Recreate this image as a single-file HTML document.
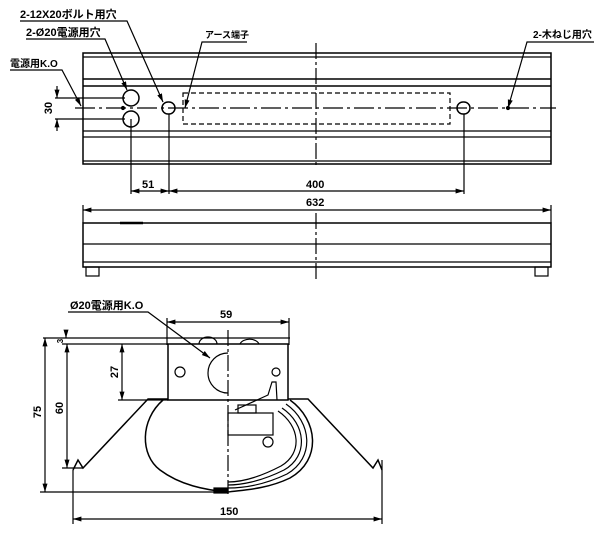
<!DOCTYPE html>
<html><head><meta charset="utf-8"><style>
html,body{margin:0;padding:0;background:#fff;}
svg{display:block;}
text{font-family:"Liberation Sans","Noto Sans CJK JP",sans-serif;font-weight:bold;fill:#000;}
</style></head><body>
<svg width="600" height="536" viewBox="0 0 600 536" xmlns="http://www.w3.org/2000/svg">
<defs>
<marker id="a" viewBox="0 0 10 10" refX="10" refY="5" markerWidth="7" markerHeight="7" orient="auto-start-reverse"><path d="M0,2 L10,5 L0,8 z" fill="#000"/></marker>
</defs>
<g stroke="#000" fill="none" stroke-width="1.2">
<!-- top view -->
<rect x="83" y="53" width="468" height="111" stroke-width="1.5"/>
<line x1="83" y1="57" x2="551" y2="57"/>
<line x1="83" y1="79" x2="551" y2="79" stroke-width="1.5"/>
<line x1="83" y1="86" x2="551" y2="86" stroke-width="1.5"/>
<line x1="83" y1="131" x2="551" y2="131"/>
<line x1="83" y1="137" x2="551" y2="137"/>
<line x1="83" y1="161" x2="551" y2="161"/>
<line x1="316" y1="43" x2="316" y2="168" stroke-dasharray="16,3,3,3"/>
<line x1="75" y1="108" x2="556" y2="108" stroke-dasharray="20,4,3,4"/>
<circle cx="131" cy="98" r="8" stroke-width="1.5"/>
<circle cx="131" cy="119" r="8" stroke-width="1.5"/>
<rect x="162" y="102" width="13" height="12" rx="6" stroke-width="1.5"/>
<rect x="457" y="102" width="13" height="12" rx="6" stroke-width="1.5"/>
<rect x="183" y="93" width="267" height="31" stroke-dasharray="5,3"/>
<circle cx="123" cy="108" r="1.5" fill="#000"/>
<circle cx="508" cy="108" r="1.5" fill="#000"/>
<!-- extension lines -->
<line x1="131" y1="119" x2="131" y2="194"/>
<line x1="169" y1="114" x2="169" y2="194"/>
<line x1="464" y1="114" x2="464" y2="194"/>
<line x1="131" y1="191" x2="169" y2="191" marker-start="url(#a)" marker-end="url(#a)"/>
<line x1="169" y1="191" x2="464" y2="191" marker-start="url(#a)" marker-end="url(#a)"/>
<!-- 30 dim -->
<line x1="55" y1="98" x2="125" y2="98"/>
<line x1="55" y1="119" x2="125" y2="119"/>
<line x1="57" y1="86" x2="57" y2="98" marker-end="url(#a)"/>
<line x1="57" y1="131" x2="57" y2="119" marker-end="url(#a)"/>
<!-- leaders -->
<polyline points="20,21 127,21 163,102" marker-end="url(#a)"/>
<polyline points="26,39 105,39 127,90" marker-end="url(#a)"/>
<polyline points="247,42 202,42 185,108" marker-end="url(#a)"/>
<polyline points="594,42 527,42 508,108" marker-end="url(#a)"/>
<polyline points="10,70 62,70 81,106" marker-end="url(#a)"/>
<!-- 632 -->
<line x1="83" y1="210" x2="551" y2="210" marker-start="url(#a)" marker-end="url(#a)"/>
<line x1="83" y1="205" x2="83" y2="223"/>
<line x1="551" y1="205" x2="551" y2="223"/>
<!-- bottom view -->
<rect x="83" y="223" width="468" height="44" stroke-width="1.5"/>
<line x1="83" y1="244" x2="551" y2="244"/>
<line x1="83" y1="262" x2="551" y2="262"/>
<line x1="120" y1="223" x2="143" y2="223" stroke-width="2.5"/>
<rect x="86" y="267" width="13" height="9"/>
<rect x="535" y="267" width="13" height="9"/>
<line x1="316" y1="213" x2="316" y2="280" stroke-dasharray="16,3,3,3"/>
<!-- section view -->
<polyline points="68,312 148,312 210,358" marker-end="url(#a)"/>
<line x1="167" y1="322" x2="289" y2="322" marker-start="url(#a)" marker-end="url(#a)"/>
<line x1="167" y1="318" x2="167" y2="345"/>
<line x1="289" y1="318" x2="289" y2="345"/>
<line x1="43" y1="338" x2="290" y2="338"/>
<line x1="62" y1="344" x2="168" y2="344"/>
<path d="M199,344 A9,7 0 0 1 217,344 M240,344 A10,7 0 0 1 259,344"/>
<rect x="168" y="344" width="120" height="56" stroke-width="1.5"/>
<circle cx="180" cy="372" r="5"/>
<path d="M228,353 A20,20 0 0 0 228,393"/>
<circle cx="276" cy="372" r="4"/>
<line x1="228" y1="330" x2="228" y2="494" stroke-dasharray="16,3,3,3"/>
<!-- dims -->
<line x1="118" y1="400" x2="168" y2="400"/>
<line x1="122" y1="344" x2="122" y2="400" marker-start="url(#a)" marker-end="url(#a)"/>
<line x1="67" y1="344" x2="67" y2="468" marker-start="url(#a)" marker-end="url(#a)"/>
<line x1="62" y1="468" x2="83" y2="468"/>
<line x1="45" y1="338" x2="45" y2="492" marker-start="url(#a)" marker-end="url(#a)"/>
<line x1="40" y1="492" x2="228" y2="492"/>
<line x1="66" y1="332" x2="66" y2="338" marker-end="url(#a)"/>
<line x1="73" y1="470" x2="73" y2="524"/>
<line x1="382" y1="460" x2="382" y2="524"/>
<line x1="73" y1="519" x2="382" y2="519" marker-start="url(#a)" marker-end="url(#a)"/>
<!-- flange -->
<polyline points="168,399 148,399 83,468 78,460 73,470" stroke-width="1.5"/>
<polyline points="288,399 308,399 373,468 378,460 382,470" stroke-width="1.5"/>
<!-- bowl left -->
<path d="M163,400 C140,420 140,455 160,470 C180,485 205,490 228,492" stroke-width="1.5"/>
<!-- right internals -->
<path d="M290,400 C318,420 322,460 290,478 C265,490 240,490 228,492" stroke-width="1.5"/>
<path d="M286,404 C312,422 315,458 287,474 C262,486 240,488 228,488"/>
<path d="M282,408 C306,424 309,456 284,470 C260,482 240,485 228,485"/>
<path d="M278,411 C300,426 303,453 281,466 C258,478 240,482 228,482"/>
<rect x="228" y="413" width="45" height="22"/>
<circle cx="268" cy="442" r="5"/>
<path d="M235,410 L268,395 L272,382 L276,382 L277,400"/>
<rect x="238" y="405" width="18" height="8"/>
<rect x="214" y="488" width="14" height="5" fill="#000"/>
</g>
<g font-size="11">
<text x="20" y="18">2-12X20ボルト用穴</text>
<text x="26" y="36">2-Ø20電源用穴</text>
<text x="205" y="38" font-size="9">アース端子</text>
<text x="533" y="38" font-size="10">2-木ねじ用穴</text>
<text x="10" y="67" font-size="10">電源用K.O</text>
<text x="142" y="188">51</text>
<text x="306" y="188">400</text>
<text x="306" y="206">632</text>
<text x="70" y="309">Ø20電源用K.O</text>
<text x="220" y="318">59</text>
<text x="220" y="515">150</text>
<text transform="translate(52,108) rotate(-90)" text-anchor="middle">30</text>
<text transform="translate(118,372) rotate(-90)" text-anchor="middle">27</text>
<text transform="translate(63,408) rotate(-90)" text-anchor="middle">60</text>
<text transform="translate(41,412) rotate(-90)" text-anchor="middle">75</text>
<text transform="translate(63,341) rotate(-90)" text-anchor="middle" font-size="8">3</text>
</g>
</svg>
</body></html>
